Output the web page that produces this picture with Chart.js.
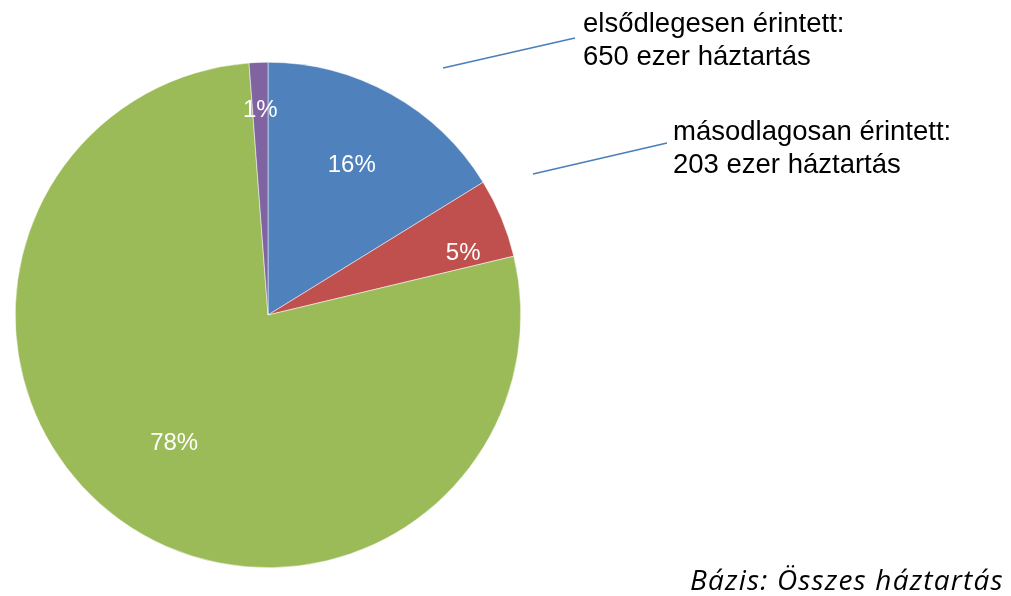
<!DOCTYPE html>
<html>
<head>
<meta charset="utf-8">
<script src="https://cdn.jsdelivr.net/npm/chart.js@4"></script>
<style>
html,body{margin:0;padding:0;background:#fff;}
#wrap{width:1011px;height:596px;position:relative;}
</style>
</head>
<body>
<div id="wrap"><canvas id="c" width="1011" height="596"></canvas></div>
<script>
const categories = ['elsődlegesen érintett', 'másodlagosan érintett', 'nem érintett', 'egyéb'];
const values = [650, 203, 3111, 48];
const percentLabels = ['16%', '5%', '78%', '1%'];
const calloutLines = [
  ['elsődlegesen érintett:', '650 ezer háztartás'],
  ['másodlagosan érintett:', '203 ezer háztartás']
];
const footnote = 'Bázis: Összes háztartás';
const colors = ['#4F81BD', '#C0504D', '#9BBB59', '#8064A2'];

const labelRadius = [0.68, 0.81, 0.63, 0.81];
const labelAngleShift = [0, 5, 0, 0];

const overlay = {
  id: 'overlay',
  afterDatasetsDraw(chart) {
    const ctx = chart.ctx;
    const meta = chart.getDatasetMeta(0);
    ctx.save();
    ctx.fillStyle = '#fff';
    ctx.font = '24px "Liberation Sans", Arial, sans-serif';
    ctx.textAlign = 'center';
    ctx.textBaseline = 'middle';
    meta.data.forEach((arc, i) => {
      const p = arc.getProps(['x','y','startAngle','endAngle','outerRadius'], true);
      const a = (p.startAngle + p.endAngle) / 2 + labelAngleShift[i] * Math.PI / 180;
      const r = p.outerRadius * labelRadius[i];
      ctx.fillText(percentLabels[i], p.x + Math.cos(a) * r, p.y + Math.sin(a) * r);
    });
    // callouts
    ctx.strokeStyle = '#4A7EBB';
    ctx.lineWidth = 1.5;
    ctx.beginPath(); ctx.moveTo(443, 68); ctx.lineTo(575, 38); ctx.stroke();
    ctx.beginPath(); ctx.moveTo(533, 174); ctx.lineTo(667, 143); ctx.stroke();
    ctx.fillStyle = '#000';
    ctx.textAlign = 'left';
    ctx.textBaseline = 'alphabetic';
    ctx.font = '27.5px "Liberation Sans", Arial, sans-serif';
    ctx.fillText(calloutLines[0][0], 583, 32);
    ctx.fillText(calloutLines[0][1], 583, 65);
    ctx.fillText(calloutLines[1][0], 673, 140);
    ctx.fillText(calloutLines[1][1], 673, 173);
    ctx.font = 'italic 28px "Open Sans", "Liberation Sans", sans-serif';
    ctx.letterSpacing = '1.2px';
    ctx.textAlign = 'left';
    ctx.fillText(footnote, 690, 590);
    ctx.restore();
  }
};

new Chart(document.getElementById('c'), {
  type: 'pie',
  data: {
    labels: categories,
    datasets: [{
      data: values,
      backgroundColor: colors,
      borderWidth: 0.5,
      borderColor: '#ffffff'
    }]
  },
  options: {
    responsive: false,
    animation: false,
    layout: { padding: { left: 15, right: 490, top: 62, bottom: 28 } },
    plugins: { legend: { display: false }, tooltip: { enabled: false } }
  },
  plugins: [overlay]
});
</script>
</body>
</html>
